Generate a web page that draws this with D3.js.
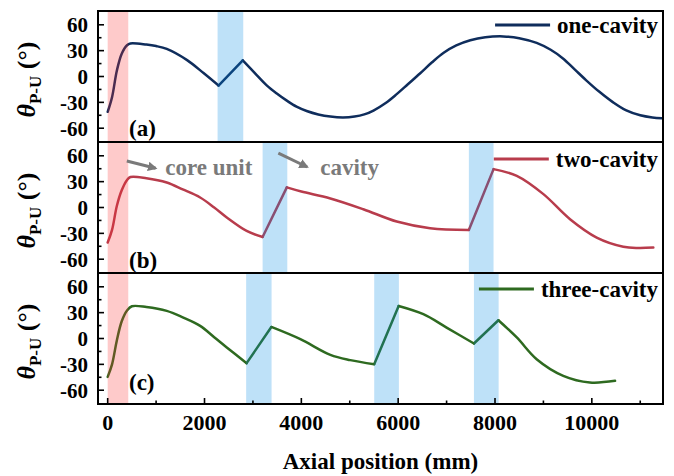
<!DOCTYPE html>
<html>
<head>
<meta charset="utf-8">
<script src="https://cdn.jsdelivr.net/npm/d3@7"></script>
<style>
  body { margin: 0; background: #fff; }
  svg { display: block; }
</style>
</head>
<body>
<svg id="chart" width="674" height="476"></svg>
<script>
// ---- data -------------------------------------------------------------
const seriesNames = ["one-cavity", "two-cavity", "three-cavity"];
const panelTags = ["(a)", "(b)", "(c)"];
const xTickValues = [0, 2000, 4000, 6000, 8000, 10000];
const xMinorTicks = [1000, 3000, 5000, 7000, 9000, 11000];
const yTickValues = [-60, -30, 0, 30, 60];
const yMinorTicks = [-45, -15, 15, 45];

// core unit span and cavity spans (axial position, mm)
const coreUnit = [0, 425];
const cavitiesOne = [[2270, 2800]];
const cavitiesTwo = [[3200, 3710], [7460, 7970]];
const cavitiesThree = [[2860, 3385], [5505, 6015], [7565, 8075]];

// theta_P-U (deg) along the axis, split into pieces between sharp corners
const oneCavity = [
  [[0, -41], [90, -24], [190, 7], [290, 26.5], [400, 36.3], [470, 38.3], [800, 37], [1000, 35.3],
   [1220, 32], [1640, 19], [1980, 4], [2290, -10.5]],
  [[2290, -10.5], [2790, 18.7]],
  [[2790, 18.7], [3040, 4], [3290, -10.5], [3500, -20], [3700, -28], [3900, -35], [4110, -40],
   [4350, -44], [4600, -46.5], [4860, -47.5], [5100, -46.5], [5300, -44], [5490, -39.5],
   [5750, -30.5], [5970, -20.5], [6200, -9], [6450, 3.5], [6700, 16.5], [6940, 27.5],
   [7200, 36], [7490, 42], [7800, 45.5], [8170, 46.5], [8500, 44.5], [8860, 39], [9150, 31],
   [9410, 20.7], [9650, 8], [9890, -4.7], [10150, -17.5], [10440, -30], [10700, -39],
   [11000, -45], [11250, -47.5], [11450, -48.4]]
];
const twoCavity = [
  [[0, -40.7], [90, -26], [190, 2], [290, 20], [400, 32], [470, 35.4], [800, 34], [1220, 29],
   [1550, 21], [1910, 11.6], [2200, 0], [2460, -11.6], [2870, -27.2], [3200, -34.2]],
  [[3200, -34.2], [3700, 23.3]],
  [[3700, 23.3], [4000, 18.5], [4600, 10.5], [5280, -2], [5970, -16.3], [6660, -24], [7460, -26]],
  [[7460, -26], [7970, 44.5]],
  [[7970, 44.5], [8450, 36.7], [9000, 15.5], [9550, -13.6], [10100, -34.9], [10650, -45.5],
   [10950, -47], [11270, -46.5]]
];
const threeCavity = [
  [[0, -44.5], [90, -30], [190, -2], [290, 20], [400, 32.5], [500, 37.4], [800, 36.5], [1220, 32],
   [1550, 24.5], [1910, 14.6], [2200, 1.5], [2460, -10.4], [2870, -28.6]],
  [[2870, -28.6], [3380, 13.4]],
  [[3380, 13.4], [3980, -0.8], [4600, -19], [5010, -25.1], [5505, -29.8]],
  [[5505, -29.8], [6010, 37.8]],
  [[6010, 37.8], [6520, 28.2], [7000, 12.7], [7565, -5.8]],
  [[7565, -5.8], [8070, 21.2]],
  [[8070, 21.2], [8450, 1.2], [8860, -24], [9410, -43.3], [9960, -51], [10480, -49.1]]
];

// ---- layout -------------------------------------------------------------
const FONT = '"Liberation Serif", Tinos, "Times New Roman", Times, "DejaVu Serif", serif';
const svg = d3.select("#chart")
  .attr("font-family", FONT)
  .attr("font-weight", "bold");
const left = 98, right = 663;
const panelTop = [11, 142, 273];
const panelH = 131;
const colors = ["#0f2d5c", "#b83c4c", "#2e6a20"];
const seriesData = [oneCavity, twoCavity, threeCavity];
const cavitySpans = [cavitiesOne, cavitiesTwo, cavitiesThree];
const tagBaseline = [125, 126, 117];   // offset of panel tag baseline from panel top
const legendOffset = [14, 17, 16];

const x = d3.scaleLinear().domain([-200, 11470]).range([left, right]);

const defs = svg.append("defs");
defs.append("marker")
  .attr("id", "arrowhead")
  .attr("viewBox", "0 0 10 10")
  .attr("refX", 8).attr("refY", 5)
  .attr("markerWidth", 3.2).attr("markerHeight", 3.2)
  .attr("orient", "auto")
  .append("path").attr("d", "M0,0 L10,5 L0,10 Z").attr("fill", "#7a7a7a");

panelTop.forEach((top, i) => {
  const y = d3.scaleLinear().domain([-76, 76]).range([top + panelH, top]);
  const g = svg.append("g");

  defs.append("clipPath").attr("id", "clip" + i)
    .append("rect").attr("x", left).attr("y", top).attr("width", right - left).attr("height", panelH);

  // curve
  const line = d3.line().x(d => x(d[0])).y(d => y(d[1])).curve(d3.curveCatmullRom.alpha(0.5));
  g.append("g").attr("clip-path", `url(#clip${i})`)
    .selectAll("path").data(seriesData[i]).join("path")
    .attr("d", line)
    .attr("fill", "none")
    .attr("stroke", colors[i])
    .attr("stroke-width", 2.5)
    .attr("stroke-linecap", "round")
    .attr("stroke-linejoin", "round");

  // shaded spans drawn over the curve
  g.append("rect")
    .attr("x", x(coreUnit[0])).attr("width", x(coreUnit[1]) - x(coreUnit[0]))
    .attr("y", top).attr("height", panelH)
    .attr("fill", "#fa2a2a").attr("opacity", 0.25);
  g.selectAll("rect.cav").data(cavitySpans[i]).join("rect")
    .attr("class", "cav")
    .attr("x", d => x(d[0])).attr("width", d => x(d[1]) - x(d[0]))
    .attr("y", top).attr("height", panelH)
    .attr("fill", "#0089e3").attr("opacity", 0.255);

  // y ticks (inward)
  g.selectAll("line.ymaj").data(yTickValues).join("line")
    .attr("x1", left).attr("x2", left + 6)
    .attr("y1", d => y(d)).attr("y2", d => y(d))
    .attr("stroke", "#000").attr("stroke-width", 1.6);
  g.selectAll("line.ymin").data(yMinorTicks).join("line")
    .attr("x1", left).attr("x2", left + 3.5)
    .attr("y1", d => y(d)).attr("y2", d => y(d))
    .attr("stroke", "#000").attr("stroke-width", 1.6);
  g.selectAll("text.ytl").data(yTickValues).join("text")
    .attr("class", "ytl")
    .attr("x", left - 10).attr("y", d => y(d))
    .attr("dy", "0.35em")
    .attr("text-anchor", "end")
    .attr("font-size", 21)
    .text(d => d);

  // y axis title
  const yt = g.append("text")
    .attr("transform", `translate(35,${top + panelH / 2 + 3}) rotate(-90)`)
    .attr("text-anchor", "middle")
    .attr("font-size", 26);
  yt.append("tspan").attr("font-style", "italic").text("θ");
  yt.append("tspan").attr("font-size", 17).attr("dy", 6).text("P-U");
  yt.append("tspan").attr("dy", -6).text(" (°)");

  // panel tag
  g.append("text")
    .attr("x", 129).attr("y", top + tagBaseline[i])
    .attr("font-size", 23)
    .text(panelTags[i]);

  // legend
  const ly = top + legendOffset[i];
  const legText = g.append("text")
    .attr("x", 658).attr("y", ly + 8)
    .attr("text-anchor", "end")
    .attr("font-size", 23)
    .text(seriesNames[i]);
  const tw = legText.node().getComputedTextLength();
  g.append("line")
    .attr("x1", 658 - tw - 62).attr("x2", 658 - tw - 7)
    .attr("y1", ly).attr("y2", ly)
    .attr("stroke", colors[i]).attr("stroke-width", 3);

  // frame
  g.append("rect")
    .attr("x", left).attr("y", top).attr("width", right - left).attr("height", panelH)
    .attr("fill", "none").attr("stroke", "#000").attr("stroke-width", 2);

  if (i === 1) {
    // annotations in the middle panel
    const ann = [
      { from: [395, 54], to: [990, 45.5], label: "core unit", lx: 1190 },
      { from: [3525, 63], to: [4120, 47], label: "cavity", lx: 4390 }
    ];
    ann.forEach(a => {
      g.append("line")
        .attr("x1", x(a.from[0])).attr("y1", y(a.from[1]))
        .attr("x2", x(a.to[0])).attr("y2", y(a.to[1]))
        .attr("stroke", "#7a7a7a").attr("stroke-width", 3)
        .attr("marker-end", "url(#arrowhead)");
      g.append("text")
        .attr("x", x(a.lx)).attr("y", y(37.5))
        .attr("font-size", 23).attr("fill", "#7a7a7a")
        .text(a.label);
    });
  }

  if (i === 2) {
    const bottom = top + panelH;
    g.selectAll("line.xmaj").data(xTickValues).join("line")
      .attr("x1", d => x(d)).attr("x2", d => x(d))
      .attr("y1", bottom).attr("y2", bottom - 6)
      .attr("stroke", "#000").attr("stroke-width", 1.6);
    g.selectAll("line.xmin").data(xMinorTicks).join("line")
      .attr("x1", d => x(d)).attr("x2", d => x(d))
      .attr("y1", bottom).attr("y2", bottom - 3.5)
      .attr("stroke", "#000").attr("stroke-width", 1.6);
    g.selectAll("text.xtl").data(xTickValues).join("text")
      .attr("x", d => x(d)).attr("y", bottom + 26)
      .attr("text-anchor", "middle")
      .attr("font-size", 22)
      .text(d => d);
    g.append("text")
      .attr("x", (left + right) / 2).attr("y", 469)
      .attr("text-anchor", "middle")
      .attr("font-size", 23)
      .text("Axial position (mm)");
  }
});
</script>
</body>
</html>
